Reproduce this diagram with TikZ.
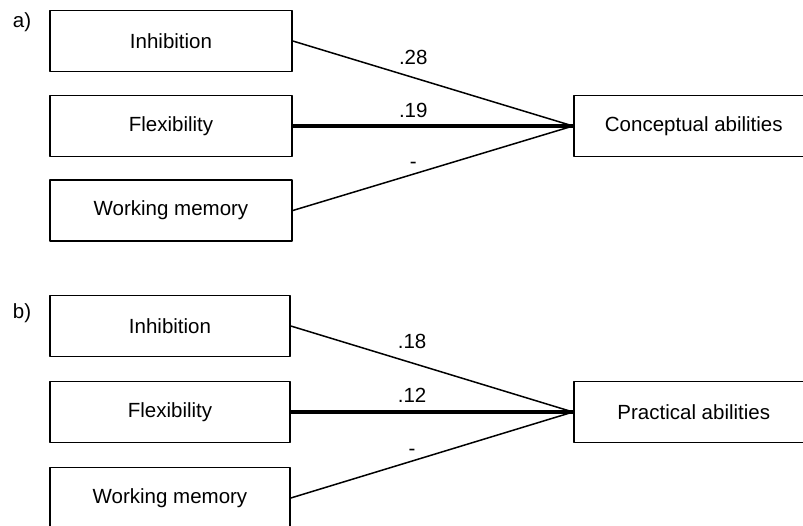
\documentclass[tikz,border=0pt]{standalone}
\usepackage{fontspec}
\setmainfont{Liberation Sans}
\usepackage{tikz}
\usetikzlibrary{calc}
\tikzset{box/.style={draw,line width=1.6pt,inner sep=0pt,minimum height=61pt,font=\fontsize{20.5}{20.5}\selectfont}}
\tikzset{l/.style={font=\fontsize{20.5}{20.5}\selectfont}}
\tikzset{path/.style={line width=1.5pt}}
\tikzset{strong/.style={line width=3.5pt}}

\begin{document}
\begin{tikzpicture}[line join=round,x=1pt,y=-1pt]
            \useasboundingbox (0,0) rectangle (803,525);
            % a)
            \node[l] (la) at (22,22) {a)};
            \node[box,minimum width=242pt] (IA) at (171,41) {Inhibition};
            \node[box,minimum width=242pt] (FA) at (171,126) {Flexibility};
            \node[box,minimum width=242pt] (WA) at (171,210.5) {Working memory};
            \node[box,minimum width=240pt,anchor=west] (CA) at (573,126) {Conceptual abilities};
            \path (CA.west)
              edge [path] node [l, pos=.57, above=9pt] {.28} (IA.east)
              edge [strong] node [l, pos=.57, above=3pt] {.19} (FA.east)
              edge [path] node [l, pos=.57, above=2pt] {-} (WA.east);
            % b)
            \node[l] (lb) at (22,313) {b)};
            \node[box,minimum width=240pt] (IB) at (170,326) {Inhibition};
            \node[box,minimum width=240pt] (FB) at (170,412) {Flexibility};
            \node[box,minimum width=240pt] (WB) at (170,498) {Working memory};
            \node[box,minimum width=240pt,anchor=west] (PB) at (573,412) {Practical abilities};
            \path (PB.west)
              edge [path] node [l, pos=.57, above=10pt] {.18} (IB.east)
              edge [strong] node [l, pos=.57, above=4pt] {.12} (FB.east)
              edge [path] node [l, pos=.57, above=1pt] {-} (WB.east);
          \end{tikzpicture}
\end{document}
